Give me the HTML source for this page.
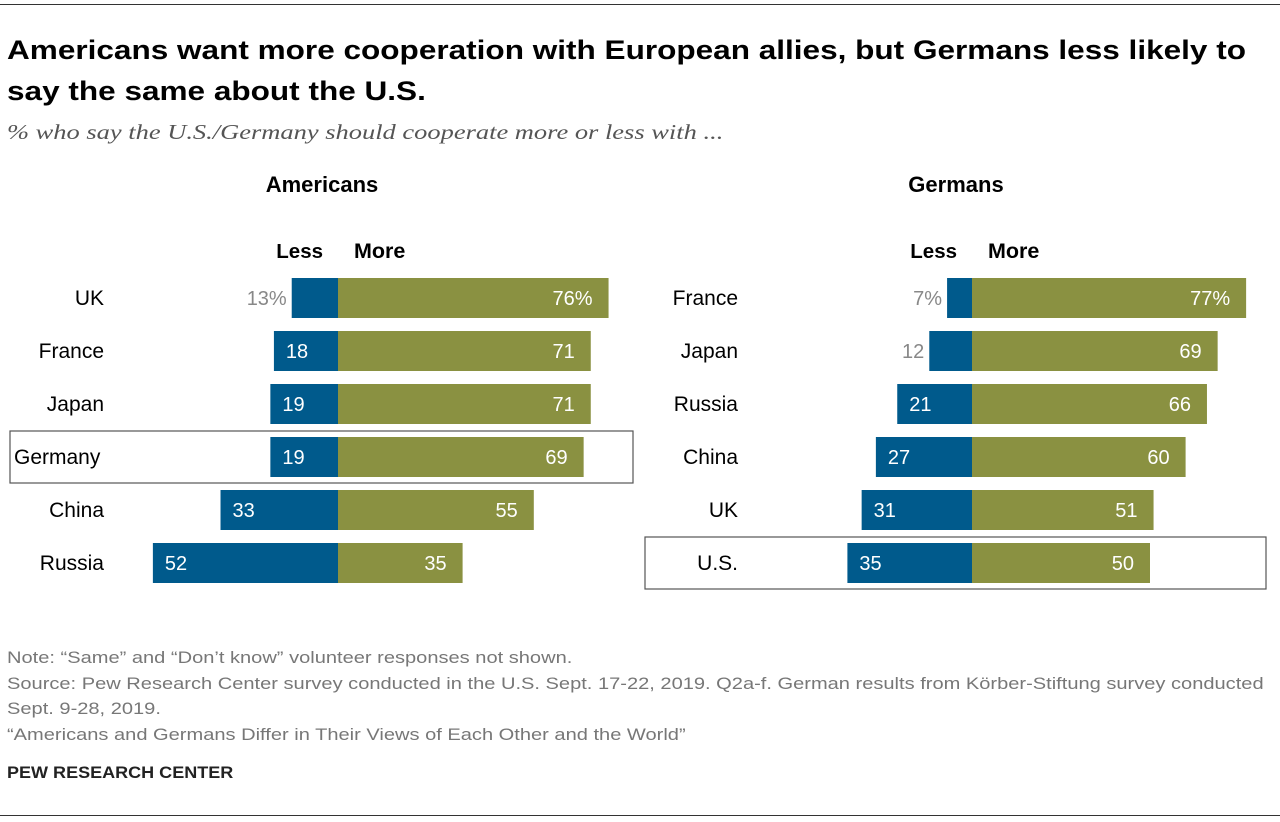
<!DOCTYPE html>
<html><head><meta charset="utf-8"><style>
body{margin:0;width:1280px;height:822px;background:#fff;font-family:"Liberation Sans",sans-serif;position:relative;overflow:hidden}
.t{position:absolute;white-space:nowrap;transform-origin:0 0}
</style></head><body>
<div class="t" style="left:0;top:4px;width:1280px;height:1px;background:#333"></div>
<div class="t" style="left:7px;top:30px;font-size:26.5px;font-weight:bold;line-height:41px;color:#000;transform:scaleX(1.19)">Americans want more cooperation with European allies, but Germans less likely to<br>say the same about the U.S.</div>
<div class="t" style="left:7px;top:120px;font-family:'Liberation Serif',serif;font-style:italic;font-size:21px;color:#555;transform:scaleX(1.26)">% who say the U.S./Germany should cooperate more or less with ...</div>
<svg id="chart" width="1280" height="822" style="position:absolute;left:0;top:0" font-family="Liberation Sans, sans-serif"></svg>
<div class="t" style="left:7px;top:645px;font-size:17px;color:#777;line-height:25.5px;transform:scaleX(1.18)">Note: “Same” and “Don’t know” volunteer responses not shown.<br>Source: Pew Research Center survey conducted in the U.S. Sept. 17-22, 2019. Q2a-f. German results from Körber-Stiftung survey conducted<br>Sept. 9-28, 2019.<br>“Americans and Germans Differ in Their Views of Each Other and the World”</div>
<div class="t" style="left:7px;top:763px;font-size:17px;font-weight:bold;color:#222;transform:scaleX(1.06)">PEW RESEARCH CENTER</div>
<div class="t" style="left:0;top:815px;width:1280px;height:1px;background:#333"></div>
<script>
const usCats=["UK","France","Japan","Germany","China","Russia"];
const usLess=[13,18,19,19,33,52];
const usMore=[76,71,71,69,55,35];
const deCats=["France","Japan","Russia","China","UK","U.S."];
const deLess=[7,12,21,27,31,35];
const deMore=[77,69,66,60,51,50];
const svg=document.getElementById('chart');
const NS='http://www.w3.org/2000/svg';
function mk(tag,at,txt){const e=document.createElementNS(NS,tag);for(const k in at)e.setAttribute(k,at[k]);if(txt!=null)e.textContent=txt;svg.appendChild(e);return e;}
const K=3.56,y0=298,step=53,bh=40;
function panel(cats,less,more,cx,labelX,title,titleX,hl,boxX,boxW,firstPct,pfx){
  let e=mk('text',{x:titleX,y:192,'text-anchor':'middle','font-size':22,'font-weight':'bold',fill:'#000'},title);
  
  e=mk('text',{x:cx-15,y:258,'text-anchor':'end','font-size':20.5,'font-weight':'bold',fill:'#000'},'Less');
  
  e=mk('text',{x:cx+16,y:258,'font-size':21.5,'font-weight':'bold',fill:'#000'},'More');
  
  cats.forEach((c,i)=>{
    const yc=y0+i*step;
    if(i===hl){e=mk('rect',{x:boxX,y:yc-26,width:boxW,height:52,fill:'none',stroke:'#555','stroke-width':1.2});
      }
    const lw=less[i]*K,mw=more[i]*K;
    e=mk('rect',{x:cx-lw,y:yc-bh/2,width:lw,height:bh,fill:'#005a8c'});
    
    e=mk('rect',{x:cx,y:yc-bh/2,width:mw,height:bh,fill:'#8a9141'});
    
    const lx=(pfx==='us'&&c==='Germany')?14:labelX;
    e=mk('text',{x:lx,y:yc+7,'text-anchor':(lx===14?'start':'end'),'font-size':21,fill:'#000'},c);
    
    const lt=less[i]+(i===0&&firstPct?'%':'');
    if(lw<50){e=mk('text',{x:cx-lw-5,y:yc+7,'text-anchor':'end','font-size':20,fill:'#888'},lt);}
    else{e=mk('text',{x:cx-lw+12,y:yc+7,'font-size':20,fill:'#fff'},lt);}
    
    e=mk('text',{x:cx+mw-16,y:yc+7,'text-anchor':'end','font-size':20,fill:'#fff'},more[i]+(i===0&&firstPct?'%':''));
    
  });
}
panel(usCats,usLess,usMore,338,104,'Americans',322,3,10,623,true,'us');
panel(deCats,deLess,deMore,972,738,'Germans',956,5,645,621,true,'de');
</script>
</body></html>
